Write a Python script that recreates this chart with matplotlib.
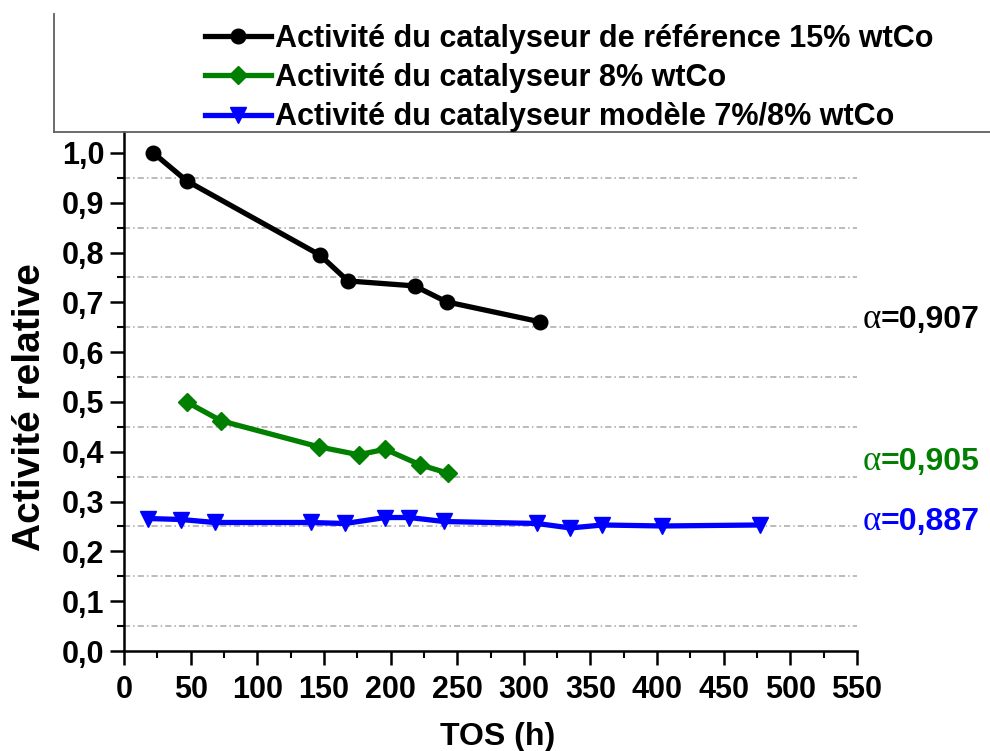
import numpy as np
import matplotlib
matplotlib.use("Agg")
import matplotlib.pyplot as plt
from matplotlib.ticker import MultipleLocator, FuncFormatter
from matplotlib.lines import Line2D

plt.rcParams['font.family'] = ['Liberation Sans', 'DejaVu Sans']
plt.rcParams['font.weight'] = 'bold'

# Données : activité relative en fonction du temps sous flux (TOS)
tos_ref = [22, 47, 147, 168, 218, 242, 312]
act_ref = [1.0, 0.944, 0.795, 0.743, 0.733, 0.701, 0.661]

tos_8 = [47, 73, 146, 176, 196, 222, 243]
act_8 = [0.500, 0.462, 0.410, 0.394, 0.405, 0.374, 0.357]

tos_mod = [18, 43, 68, 140, 166, 196, 214, 240, 310, 335, 359, 404, 477]
act_mod = [0.266, 0.264, 0.258, 0.258, 0.256, 0.268, 0.268, 0.260,
           0.256, 0.247, 0.253, 0.251, 0.253]

labels = ["Activité du catalyseur de référence 15% wtCo",
          "Activité du catalyseur 8% wtCo",
          "Activité du catalyseur modèle 7%/8% wtCo"]
alphas = ["0,907", "0,905", "0,887"]
alpha_y = [0.665, 0.38, 0.259]
colors = ["black", "#007f00", "#0000ff"]

fig = plt.figure(figsize=(9.9, 7.51), dpi=100)
ax = fig.add_axes([124 / 990, 1 - 651 / 751, 733 / 990, 519 / 751])

ax.plot(tos_ref, act_ref, color=colors[0], lw=3.8, marker='o', ms=10.5,
        label=labels[0])
ax.plot(tos_8, act_8, color=colors[1], lw=3.8, marker='D', ms=9,
        label=labels[1])
ax.plot(tos_mod, act_mod, color=colors[2], lw=3.8, marker='v', ms=12,
        label=labels[2])

ax.set_xlim(0, 550)
ax.set_ylim(0, 1.042)
ax.xaxis.set_major_locator(MultipleLocator(50))
ax.xaxis.set_minor_locator(MultipleLocator(25))
ax.yaxis.set_major_locator(MultipleLocator(0.1))
ax.yaxis.set_minor_locator(MultipleLocator(0.05))
ax.yaxis.set_major_formatter(FuncFormatter(lambda v, p: f"{v:.1f}".replace('.', ',')))

ax.tick_params(which='major', direction='out', length=10, width=1.8,
               labelsize=22)
ax.tick_params(axis='x', which='major', pad=7)
ax.tick_params(axis='y', which='major', pad=4)
ax.tick_params(which='minor', direction='out', length=5, width=1.5)
ax.grid(which='minor', axis='y', color='#a8a8a8', lw=1.1,
        linestyle=(0, (4, 2, 1, 2)))
ax.grid(which='major', visible=False)

for s in ['top', 'right']:
    ax.spines[s].set_visible(False)
for s in ['left', 'bottom']:
    ax.spines[s].set_linewidth(1.8)

ax.set_xlabel("TOS (h)", fontsize=23, fontweight='bold')
ax.set_ylabel("Activité relative", fontsize=28, fontweight='bold')
ax.xaxis.set_label_coords(0.51, -0.137)
ax.yaxis.set_label_coords(-0.104, 0.47)

# valeurs de alpha à droite du graphique
for a, y, c in zip(alphas, alpha_y, colors):
    t = ax.text(1.007, y, "α", transform=ax.get_yaxis_transform(),
                color=c, fontsize=25, fontweight='normal',
                family=['Liberation Serif', 'DejaVu Serif'],
                ha='left', va='center', clip_on=False)
    ax.annotate("=" + a, xy=(1, 0.5), xycoords=t, color=c, fontsize=23,
                fontweight='bold', ha='left', va='center',
                annotation_clip=False)

# cadre de la légende (bords gauche et bas)
fig.add_artist(Line2D([54 / 990, 54 / 990], [1 - 14 / 751, 1 - 132 / 751],
                      color='#606060', lw=1.3))
fig.add_artist(Line2D([54 / 990, 1.0], [1 - 132 / 751, 1 - 132 / 751],
                      color='#606060', lw=1.3))

fig.legend(loc='upper left', bbox_to_anchor=(205 / 990, 1 - 24 / 751),
           frameon=False, handlelength=2.15, handletextpad=0.15,
           labelspacing=0.3, borderpad=0, borderaxespad=0,
           prop={'weight': 'bold', 'size': 22})

fig.savefig("out.png", dpi=100)
